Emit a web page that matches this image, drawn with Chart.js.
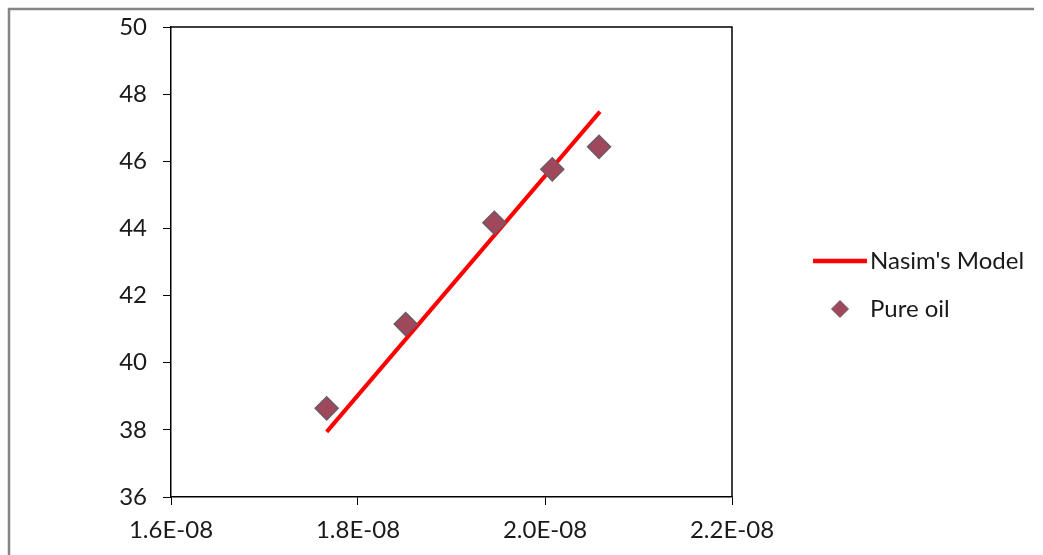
<!DOCTYPE html>
<html>
<head>
<meta charset="utf-8">
<title>Nasim's Model vs Pure oil</title>
<script src="https://cdn.jsdelivr.net/npm/chart.js@4/dist/chart.umd.min.js"></script>
<style>
  body { margin: 0; background: #fff; }
  #wrap { width: 1043px; height: 555px; }
</style>
</head>
<body>
<div id="wrap"><canvas id="chart-area" width="1043" height="555"></canvas></div>
<script>
// values
var modelX = [1.7665e-8, 2.0588e-8];
var modelY = [37.94, 47.48];

var oilX = [1.7665e-8, 1.851e-8, 1.9458e-8, 2.0078e-8, 2.0578e-8];
var oilY = [38.64, 41.15, 44.17, 45.76, 46.43];

var xTicks = [1.6e-8, 1.8e-8, 2.0e-8, 2.2e-8];
var yTicks = [36, 38, 40, 42, 44, 46, 48, 50];

var FONT = "Lato, 'Open Sans', sans-serif";
var TEXT = '#1a1a1a';

function sci(v) {
    var s = v.toExponential(1).toUpperCase();   // 1.6E-8
    var parts = s.split('E');
    var exp = parseInt(parts[1], 10);
    var sign = exp < 0 ? '-' : '+';
    exp = Math.abs(exp);
    return parts[0] + 'E' + sign + (exp < 10 ? '0' + exp : exp);
}

function toPoints(xs, ys) {
    return xs.map(function(x, i) { return {x: x, y: ys[i]}; });
}

// gray frame at top/left + black box around plot area
var framePlugin = {
    id: 'frame',
    beforeDraw: function(chart) {
        var ctx = chart.ctx;
        ctx.save();
        ctx.fillStyle = '#fff';
        ctx.fillRect(0, 0, chart.width, chart.height);
        ctx.strokeStyle = '#858585';
        ctx.lineWidth = 2.5;
        ctx.beginPath();
        ctx.moveTo(9, chart.height);
        ctx.lineTo(9, 9);
        ctx.lineTo(1034, 9);
        ctx.stroke();
        ctx.restore();
    },
    afterDatasetsDraw: function(chart) {
        var a = chart.chartArea, ctx = chart.ctx;
        ctx.save();
        ctx.strokeStyle = '#000';
        ctx.lineWidth = 1.5;
        ctx.beginPath();
        ctx.moveTo(a.left, a.top);
        ctx.lineTo(a.right, a.top);
        ctx.lineTo(a.right, a.bottom);
        ctx.stroke();
        ctx.restore();
    }
};

// legend to the right of the plot, like the original
var legendPlugin = {
    id: 'sideLegend',
    afterDraw: function(chart) {
        var ctx = chart.ctx;
        var ds = chart.data.datasets;
        var x0 = 813, cx = 840, tx = 870;
        var rows = [261, 309];
        ctx.save();
        ctx.font = '24px ' + FONT;
        ctx.textBaseline = 'middle';
        ds.forEach(function(d, i) {
            var y = rows[i];
            if (d.showLine) {
                ctx.strokeStyle = d.borderColor;
                ctx.lineWidth = 4.5;
                ctx.beginPath();
                ctx.moveTo(x0, y);
                ctx.lineTo(x0 + 54, y);
                ctx.stroke();
            } else {
                var r = 8.5;
                ctx.fillStyle = d.backgroundColor;
                ctx.strokeStyle = d.borderColor;
                ctx.lineWidth = 1;
                ctx.beginPath();
                ctx.moveTo(cx, y - r);
                ctx.lineTo(cx + r, y);
                ctx.lineTo(cx, y + r);
                ctx.lineTo(cx - r, y);
                ctx.closePath();
                ctx.fill();
                ctx.stroke();
            }
            ctx.fillStyle = TEXT;
            ctx.fillText(d.label, tx, y);
        });
        ctx.restore();
    }
};

var config = {
    type: 'scatter',
    data: {
        datasets: [
            {
                label: "Nasim's Model",
                data: toPoints(modelX, modelY),
                showLine: true,
                borderColor: '#FF0000',
                backgroundColor: '#FF0000',
                borderWidth: 4,
                pointRadius: 0,
                order: 2
            },
            {
                label: 'Pure oil',
                data: toPoints(oilX, oilY),
                showLine: false,
                pointStyle: 'rectRot',
                pointRadius: 11.5,
                backgroundColor: '#A0485B',
                borderColor: '#6E5A66',
                borderWidth: 1.5,
                order: 1
            }
        ]
    },
    options: {
        responsive: false,
        animation: false,
        layout: { padding: { left: 0, top: 27, right: 311, bottom: 0 } },
        plugins: {
            legend: { display: false },
            tooltip: { enabled: false }
        },
        scales: {
            x: {
                type: 'linear',
                min: 1.6e-8,
                max: 2.2e-8,
                afterBuildTicks: function(scale) {
                    scale.ticks = xTicks.map(function(v) { return {value: v}; });
                },
                afterFit: function(scale) { scale.height = 58; },
                grid: { drawOnChartArea: false, tickLength: 8, color: '#000', tickColor: '#000' },
                border: { color: '#000', width: 1.5 },
                ticks: {
                    padding: 11,
                    color: TEXT,
                    font: { family: FONT, size: 24 },
                    maxRotation: 0,
                    callback: function(v) { return sci(v); }
                }
            },
            y: {
                min: 36,
                max: 50,
                afterBuildTicks: function(scale) {
                    scale.ticks = yTicks.map(function(v) { return {value: v}; });
                },
                afterFit: function(scale) {
                    scale.width = 171;
                    scale.paddingTop = 0;
                    scale.paddingBottom = 0;
                },
                grid: { drawOnChartArea: false, tickLength: 8, color: '#000', tickColor: '#000' },
                border: { color: '#000', width: 1.5 },
                ticks: {
                    padding: 16,
                    color: TEXT,
                    font: { family: FONT, size: 24 }
                }
            }
        }
    },
    plugins: [framePlugin, legendPlugin]
};

window.onload = function() {
    var ctx = document.getElementById('chart-area').getContext('2d');
    window.myChart = new Chart(ctx, config);
};
</script>
</body>
</html>
